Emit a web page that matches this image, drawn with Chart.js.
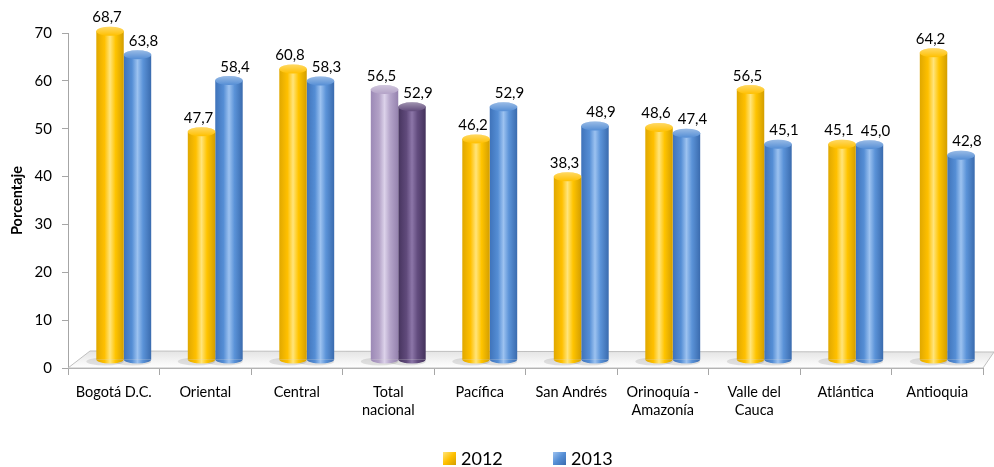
<!DOCTYPE html>
<html><head><meta charset="utf-8">
<script src="https://cdn.jsdelivr.net/npm/chart.js@4.4.0/dist/chart.umd.min.js"></script>
<style>
html,body{margin:0;padding:0;background:#fff}
#wrap{position:relative;width:994px;height:467px}
.lg{position:absolute;font-family:Lato,"Open Sans",sans-serif;font-size:18px;color:#000;line-height:18px;top:449px}
.ic{position:absolute;width:13px;height:13px;top:452px}
</style>
</head><body><div id="wrap"><canvas id="c" width="994" height="467"></canvas>
<div class="ic" id="ic0" style="left:443px"></div><div class="lg" id="lg0" style="left:461px"></div>
<div class="ic" id="ic1" style="left:553px"></div><div class="lg" id="lg1" style="left:571px"></div>
</div>
<script>
const categories = [["Bogotá D.C."],["Oriental"],["Central"],["Total","nacional"],["Pacífica"],["San Andrés"],["Orinoquía -","Amazonía"],["Valle del","Cauca"],["Atlántica"],["Antioquia"]];
const values2012 = [68.7,47.7,60.8,56.5,46.2,38.3,48.6,56.5,45.1,64.2];
const values2013 = [63.8,58.4,58.3,52.9,52.9,48.9,47.4,45.1,45.0,42.8];
const yTicks = [0,10,20,30,40,50,60,70];
const series = ["2012","2013"];

const Y = ['#E0A800','#FFC000','#FFE47A','#FFC400','#D39E00'];
const B = ['#3F73BA','#558ED5','#9CC2F0','#5B93D8','#3A6BAE'];
const PL = ['#9C89B6','#B3A2C7','#DCD2EA','#B5A5CA','#9582AE'];
const PD = ['#46345E','#604A7B','#8C76A8','#634D7F','#44325C'];
function pal(ds, i){ if(i===3) return ds===0?PL:PD; return ds===0?Y:B; }

const DX = 10, DY = -8;
function grad(ctx, x, w, p){
  const g = ctx.createLinearGradient(x-w/2,0,x+w/2,0);
  g.addColorStop(0,p[0]); g.addColorStop(0.3,p[1]); g.addColorStop(0.5,p[2]); g.addColorStop(0.7,p[3]); g.addColorStop(1,p[4]);
  return g;
}
const fmt = v => v.toFixed(1).replace('.',',');

const threeD = {
  id:'threeD',
  beforeDatasetsDraw(chart){
    const {ctx, chartArea:a} = chart;
    ctx.save();
    ctx.beginPath();
    ctx.moveTo(a.left, a.bottom); ctx.lineTo(a.right, a.bottom);
    ctx.lineTo(a.right+11, a.bottom-16); ctx.lineTo(a.left+22, a.bottom-17);
    ctx.closePath();
    const fg = ctx.createLinearGradient(0,a.bottom-17,0,a.bottom);
    fg.addColorStop(0,'#E4E4E4'); fg.addColorStop(1,'#FFFFFF');
    ctx.fillStyle = fg; ctx.fill();
    ctx.strokeStyle = '#BFBFBF'; ctx.lineWidth = 1; ctx.stroke();
    ctx.restore();
    ctx.save();
    ctx.translate(DX, DY);
    chart.data.datasets.forEach((d,di)=>{
      chart.getDatasetMeta(di).data.forEach((el,i)=>{
        el.options = Object.assign({}, el.options, {backgroundColor: grad(ctx, el.x, el.width, pal(di,i))});
      });
    });
    chart.data.datasets.forEach((d,di)=>{
      chart.getDatasetMeta(di).data.forEach((el,i)=>{
        ctx.fillStyle='rgba(0,0,0,0.10)';
        ctx.beginPath(); ctx.ellipse(el.x-5, el.base+2, el.width/2+5, 4, 0, 0, Math.PI*2); ctx.fill();
      });
    });
  },
  afterDatasetsDraw(chart){
    const {ctx} = chart;
    chart.data.datasets.forEach((d,di)=>{
      chart.getDatasetMeta(di).data.forEach((el,i)=>{
        const p = pal(di,i), r = el.width/2;
        ctx.fillStyle = grad(ctx, el.x, el.width, p);
        ctx.beginPath(); ctx.ellipse(el.x, el.base, r, 4, 0, 0, Math.PI); ctx.fill();
        ctx.fillStyle = p[1];
        ctx.beginPath(); ctx.ellipse(el.x, el.y, r, 4.5, 0, 0, Math.PI*2); ctx.fill();
        const cg = ctx.createLinearGradient(0, el.y-4.5, 0, el.y+4.5);
        cg.addColorStop(0,'rgba(255,255,255,0.4)'); cg.addColorStop(1,'rgba(255,255,255,0)');
        ctx.fillStyle = cg; ctx.fill();
      });
    });
    chart.data.datasets.forEach((d,di)=>{
      chart.getDatasetMeta(di).data.forEach((el,i)=>{
        ctx.fillStyle = '#000';
        ctx.font = '15px Lato, "Open Sans", sans-serif';
        ctx.textAlign = 'center'; ctx.textBaseline = 'alphabetic';
        ctx.fillText(fmt(d.data[i]), el.x + (di===0?-3:6), el.y - 9);
      });
    });
    ctx.restore();
  }
};

function iconBg(p){ return 'linear-gradient(135deg,'+p[2]+' 0%,'+p[1]+' 50%,'+p[4]+' 100%)'; }
document.getElementById('ic0').style.background = iconBg(Y);
document.getElementById('ic1').style.background = iconBg(B);
document.getElementById('lg0').textContent = series[0];
document.getElementById('lg1').textContent = series[1];

new Chart(document.getElementById('c'), {
  type:'bar',
  data:{ labels:categories, datasets:[
    {label:series[0], data:values2012, backgroundColor:Y[1], borderWidth:0, clip:false, categoryPercentage:0.6, barPercentage:1.0},
    {label:series[1], data:values2013, backgroundColor:B[1], borderWidth:0, clip:false, categoryPercentage:0.6, barPercentage:1.0}
  ]},
  options:{
    responsive:false, animation:false, devicePixelRatio:1,
    layout:{padding:{left:0,right:11,top:33,bottom:29}},
    plugins:{ legend:{display:false}, tooltip:{enabled:false} },
    scales:{
      x:{
        grid:{offset:true, drawOnChartArea:false, tickLength:7, color:'#A6A6A6'},
        border:{color:'#A6A6A6'},
        ticks:{color:'#000', font:{size:14.5, family:'Lato, "Open Sans", sans-serif', lineHeight:1.25}, maxRotation:0, autoSkip:false, padding:8},
        afterFit(s){ s.height = 70; }
      },
      y:{
        min:0, max:70,
        afterBuildTicks(s){ s.ticks = yTicks.map(v=>({value:v})); },
        grid:{drawOnChartArea:false, tickLength:6, color:'#A6A6A6'},
        border:{color:'#A6A6A6'},
        ticks:{color:'#000', font:{size:15, family:'Lato, "Open Sans", sans-serif'}, padding:10},
        title:{display:true, text:'Porcentaje', color:'#000', font:{size:14.5, weight:'bold', family:'Lato, "Open Sans", sans-serif'}, padding:{top:9,bottom:4}},
        afterFit(s){ s.width = 68; }
      }
    }
  },
  plugins:[threeD]
});
</script></body></html>
